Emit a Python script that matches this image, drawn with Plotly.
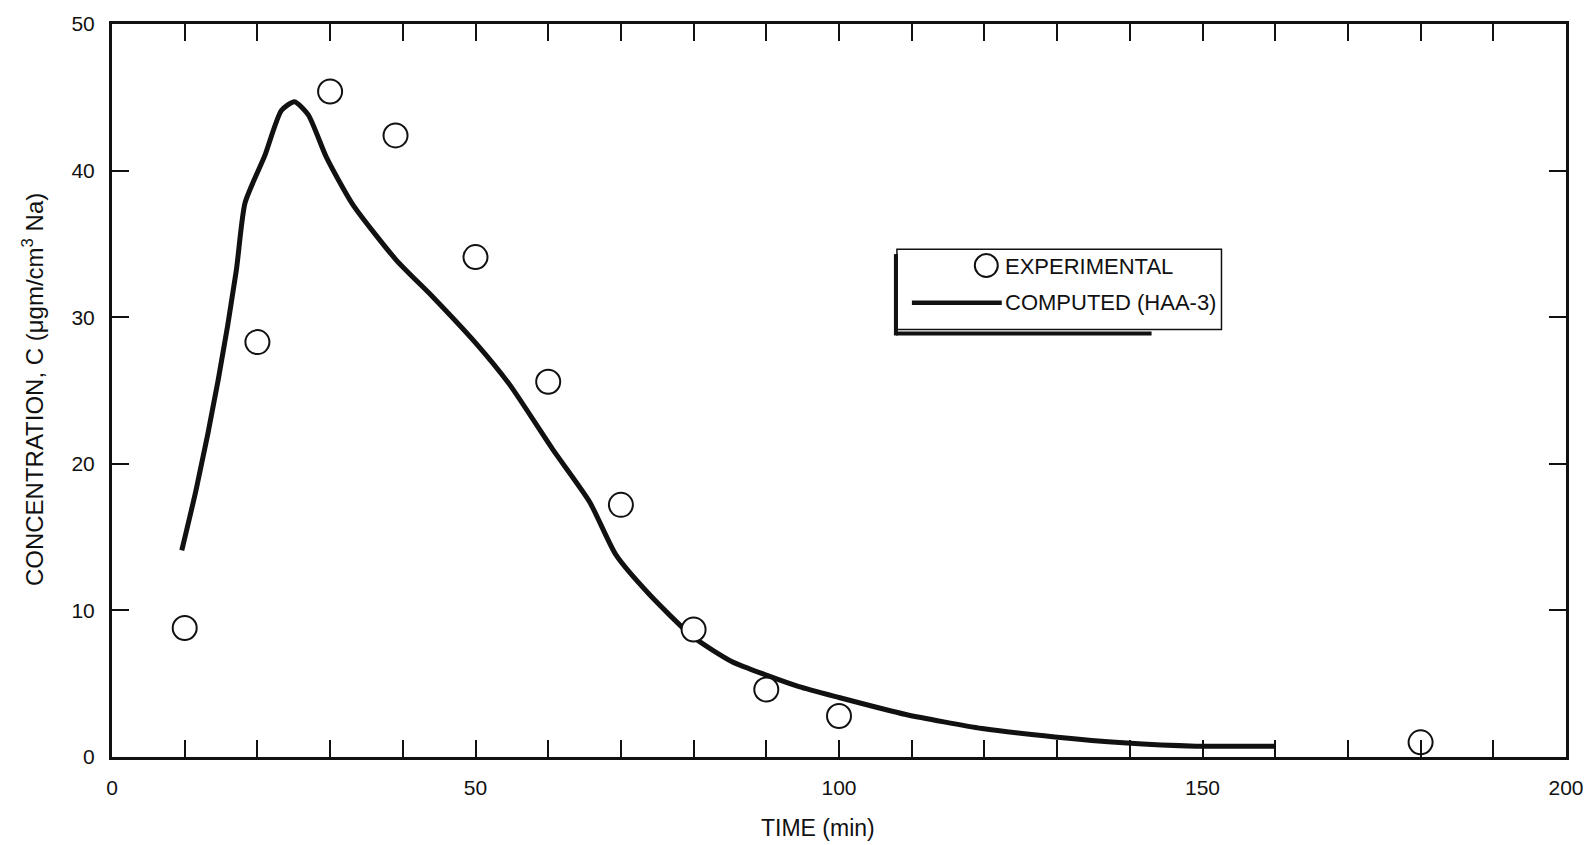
import plotly.graph_objects as go

# Measured sodium concentration (experimental points)
exp_time = [10, 20, 30, 39, 50, 60, 70, 80, 90, 100, 180]
exp_conc = [8.8, 28.3, 45.4, 42.4, 34.1, 25.6, 17.2, 8.7, 4.6, 2.8, 1.0]

# Computed concentration curve (HAA-3)
calc_time = [9.6, 11.6, 14.6, 17.1, 18.3, 21.0, 23.3, 25.1, 27.0, 29.5, 33.1,
             39.1, 44.1, 50.1, 54.7, 60.6, 65.7, 69.3, 73.9, 79.9, 85.3, 90.2,
             94.5, 99.7, 109.2, 119.7, 129.7, 139.1, 149.1, 159.9]
calc_conc = [14.1, 18.3, 25.7, 33.2, 37.8, 41.0, 44.1, 44.7, 43.8, 40.9, 37.7,
             33.9, 31.4, 28.2, 25.4, 21.0, 17.4, 13.8, 11.1, 8.2, 6.5, 5.55,
             4.8, 4.1, 2.9, 1.94, 1.37, 0.97, 0.74, 0.74]

x_ticks = [0, 50, 100, 150, 200]
y_ticks = [0, 10, 20, 30, 40, 50]

W, H = 1596, 845
L, R, T, B = 112, 28, 18, 88
FONT = "Liberation Sans, Arial, Helvetica, sans-serif"
INK = "#111111"


def px_x(px):
    return (px - L) / (W - L - R)


def px_y(py):
    return (H - B - py) / (H - T - B)


fig = go.Figure()

fig.add_trace(go.Scatter(
    x=calc_time, y=calc_conc, mode="lines", name="COMPUTED (HAA-3)",
    line=dict(color=INK, width=5, shape="spline", smoothing=0.6),
    showlegend=False,
))
fig.add_trace(go.Scatter(
    x=exp_time, y=exp_conc, mode="markers", name="EXPERIMENTAL",
    marker=dict(symbol="circle", size=24, color="white",
                line=dict(color=INK, width=2)),
    showlegend=False, cliponaxis=False,
))

axis_common = dict(
    showline=True, linecolor=INK, linewidth=3, mirror="ticks",
    ticks="inside", tickcolor=INK, tickwidth=2, ticklen=17,
    showgrid=False, zeroline=False,
    tickfont=dict(family=FONT, size=21, color=INK),
)

fig.update_xaxes(
    range=[0, 200], tickmode="array", tickvals=x_ticks,
    ticktext=[str(v) for v in x_ticks],
    minor=dict(dtick=10, ticks="inside", ticklen=17, tickwidth=2,
               tickcolor=INK, showgrid=False),
    ticklabelstandoff=10,
    **axis_common,
)
fig.update_yaxes(
    range=[0, 50], tickmode="array", tickvals=y_ticks,
    ticktext=[str(v) for v in y_ticks],
    ticklabelstandoff=10,
    **axis_common,
)

# Legend box with heavy left and bottom edges
shapes = [
    dict(type="rect", xref="paper", yref="paper",
         x0=px_x(898), x1=px_x(1223), y0=px_y(326), y1=px_y(245),
         line=dict(color=INK, width=1.5), fillcolor="white", layer="below"),
    dict(type="line", xref="paper", yref="paper",
         x0=px_x(897), x1=px_x(897), y0=px_y(250), y1=px_y(332),
         line=dict(color=INK, width=4)),
    dict(type="line", xref="paper", yref="paper",
         x0=px_x(897), x1=px_x(1153), y0=px_y(330), y1=px_y(330),
         line=dict(color=INK, width=4)),
    # legend sample for the computed curve
    dict(type="line", xref="paper", yref="paper",
         x0=px_x(913), x1=px_x(1003), y0=px_y(299), y1=px_y(299),
         line=dict(color=INK, width=4.5)),
    # legend sample for the experimental points
    dict(type="circle", xref="paper", yref="paper",
         x0=px_x(976), x1=px_x(999), y0=px_y(273), y1=px_y(250),
         line=dict(color=INK, width=2), fillcolor="white"),
]

annotations = [
    dict(text="EXPERIMENTAL", xref="paper", yref="paper",
         x=px_x(1004), y=px_y(262), xanchor="left", yanchor="middle",
         showarrow=False, font=dict(family=FONT, size=22, color=INK)),
    dict(text="COMPUTED (HAA-3)", xref="paper", yref="paper",
         x=px_x(1004), y=px_y(299), xanchor="left", yanchor="middle",
         showarrow=False, font=dict(family=FONT, size=22, color=INK)),
    dict(text="TIME (min)", xref="paper", yref="paper",
         x=px_x(819), y=px_y(829), xanchor="center", yanchor="middle",
         showarrow=False, font=dict(family=FONT, size=23, color=INK)),
    dict(text="CONCENTRATION, C (\u03bcgm/cm<sup>3</sup> Na)",
         xref="paper", yref="paper", textangle=-90,
         x=px_x(33), y=px_y(387), xanchor="center", yanchor="middle",
         showarrow=False, font=dict(family=FONT, size=24, color=INK)),
]

fig.update_layout(
    width=W, height=H,
    margin=dict(l=L, r=R, t=T, b=B, pad=0),
    paper_bgcolor="white", plot_bgcolor="white",
    shapes=shapes, annotations=annotations,
    showlegend=False,
)

fig.write_html("out.html")
